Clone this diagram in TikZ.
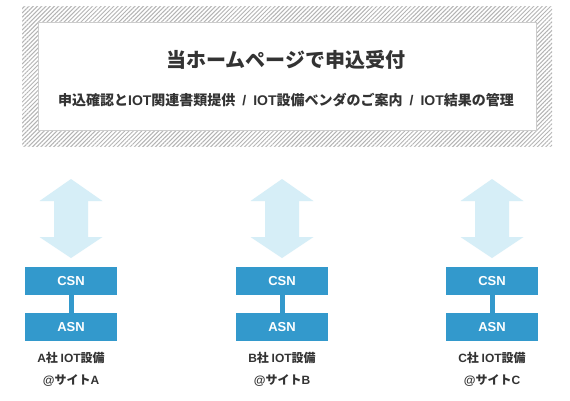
\documentclass[tikz,border=0pt]{standalone}
\usepackage{fontspec}
\setmainfont{Noto Sans CJK JP}
\newfontfamily\lat{Liberation Sans}
\usepackage{xcolor}
\usepackage{tikz}
\usetikzlibrary{patterns.meta}
\definecolor{ink}{HTML}{333333}
\definecolor{nodeblue}{HTML}{3399CC}
\definecolor{paleblue}{HTML}{D6EEF7}
\definecolor{hatch}{HTML}{B4B4B4}
\newcommand{\sep}{\hspace{7pt}{\lat /}\hspace{7pt}}
\tikzset{
  unitbox/.style={fill=nodeblue,text=white,minimum width=92pt,minimum height=28pt,inner sep=0pt,font=\fontsize{13}{13}\selectfont\lat\bfseries},
  sitelabel/.style={text=ink,font=\fontsize{12}{12}\selectfont\bfseries}
}

\begin{document}
\begin{tikzpicture}[x=1pt,y=-1pt]
\useasboundingbox (0,0) rectangle (570,400);
\fill[white] (0,0) rectangle (570,400);
% top panel
\fill[pattern={Lines[angle=45,distance=3pt,line width=1pt]},pattern color=hatch] (22,6) rectangle (552,146);
\draw[fill=white,draw=black!20] (38,22) rectangle (536,130);
\node[text=ink,font=\fontsize{20}{20}\selectfont\bfseries] (title) at (286,60) {当ホームページで申込受付};
\node[text=ink,font=\fontsize{14}{14}\selectfont\bfseries] (subtitle) at (286,100)
  {申込確認と{\lat IOT}関連書類提供\sep{\lat IOT}設備ベンダのご案内\sep{\lat IOT}結果の管理};
% sites
\foreach \c/\s in {71/A,282/B,492/C}{
  \fill[paleblue] (\c,179)--(\c+31.5,201)--(\c+17,201)--(\c+17,237)--(\c+31.5,237)--(\c,258)
    --(\c-31.5,237)--(\c-17,237)--(\c-17,201)--(\c-31.5,201)--cycle;
  \node[unitbox] (csn\s) at (\c,281) {CSN};
  \node[unitbox] (asn\s) at (\c,327) {ASN};
  \draw[nodeblue,line width=5pt] (csn\s) -- (asn\s);
  \node[sitelabel] (dev\s) at (\c,358) {{\lat\s}社 {\lat IOT}設備};
  \node[sitelabel] (loc\s) at (\c,380) {{\lat @}サイト{\lat\s}};
}
\end{tikzpicture}
\end{document}
